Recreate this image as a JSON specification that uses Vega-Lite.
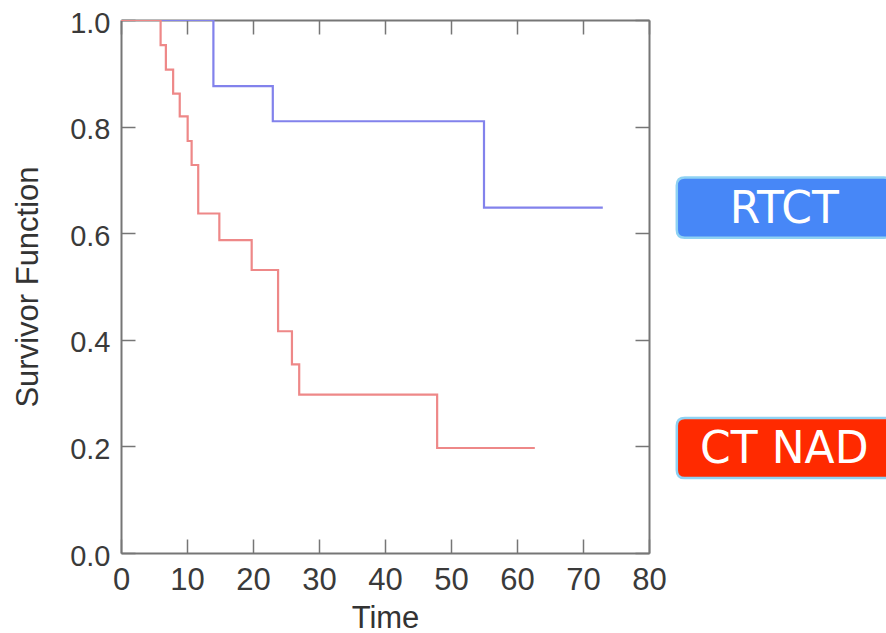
{
  "$schema": "https://vega.github.io/schema/vega-lite/v6.json",
  "width": 528,
  "height": 533,
  "autosize": {"type": "none"},
  "padding": {"left": 121, "top": 20, "right": 237, "bottom": 80},
  "background": "white",
  "config": {
    "view": {"stroke": null},
    "axis": {
      "grid": false,
      "domainColor": "#767676",
      "domainWidth": 2,
      "tickColor": "#767676",
      "tickWidth": 1.5,
      "labelColor": "#3a3a3a",
      "titleColor": "#333333",
      "labelFont": "Liberation Sans",
      "titleFont": "Liberation Sans",
      "titleFontWeight": "normal"
    }
  },
  "datasets": {
    "km": [
      {"group": "RTCT", "time": 0, "surv": 1.0},
      {"group": "RTCT", "time": 14, "surv": 0.876},
      {"group": "RTCT", "time": 23, "surv": 0.81},
      {"group": "RTCT", "time": 55, "surv": 0.648},
      {"group": "RTCT", "time": 73, "surv": 0.648},
      {"group": "CT NAD", "time": 0, "surv": 1.0},
      {"group": "CT NAD", "time": 6, "surv": 0.953},
      {"group": "CT NAD", "time": 6.8, "surv": 0.907},
      {"group": "CT NAD", "time": 7.9, "surv": 0.862},
      {"group": "CT NAD", "time": 8.9, "surv": 0.819},
      {"group": "CT NAD", "time": 10.1, "surv": 0.773},
      {"group": "CT NAD", "time": 10.7, "surv": 0.728},
      {"group": "CT NAD", "time": 11.7, "surv": 0.637},
      {"group": "CT NAD", "time": 14.9, "surv": 0.587},
      {"group": "CT NAD", "time": 19.8, "surv": 0.531},
      {"group": "CT NAD", "time": 23.8, "surv": 0.416},
      {"group": "CT NAD", "time": 25.9, "surv": 0.354},
      {"group": "CT NAD", "time": 27, "surv": 0.297},
      {"group": "CT NAD", "time": 47.9, "surv": 0.197},
      {"group": "CT NAD", "time": 62.7, "surv": 0.197}
    ]
  },
  "data": {"name": "km"},
  "layer": [
    {
      "mark": {"type": "line", "interpolate": "step-after", "strokeWidth": 2.2, "clip": true},
      "encoding": {
        "x": {
          "field": "time", "type": "quantitative",
          "scale": {"domain": [0, 80], "nice": false, "zero": false},
          "axis": {
            "orient": "bottom", "title": "Time",
            "values": [0, 10, 20, 30, 40, 50, 60, 70, 80],
            "tickSize": -14, "labelPadding": 26, "labelFontSize": 31,
            "titleFontSize": 31, "titlePadding": 8, "labelFlush": false
          }
        },
        "y": {
          "field": "surv", "type": "quantitative",
          "scale": {"domain": [0, 1], "nice": false},
          "axis": {
            "orient": "left", "title": "Survivor Function",
            "values": [0, 0.2, 0.4, 0.6, 0.8, 1.0], "format": ".1f",
            "tickSize": -14, "labelPadding": 25, "labelFontSize": 29, "labelOffset": 3,
            "titleFontSize": 31, "titlePadding": 25, "labelFlush": false
          }
        },
        "color": {
          "field": "group", "type": "nominal",
          "scale": {"domain": ["RTCT", "CT NAD"], "range": ["#8282ec", "#ee8888"]},
          "legend": null
        },
        "detail": {"field": "group"}
      }
    },
    {
      "mark": {"type": "line", "opacity": 0},
      "encoding": {
        "x": {
          "field": "time", "type": "quantitative",
          "axis": {"orient": "top", "title": null, "labels": false,
                   "values": [0, 10, 20, 30, 40, 50, 60, 70, 80], "tickSize": -14}
        },
        "y": {
          "field": "surv", "type": "quantitative",
          "axis": {"orient": "right", "title": null, "labels": false,
                   "values": [0, 0.2, 0.4, 0.6, 0.8, 1.0], "tickSize": -14}
        },
        "detail": {"field": "group"}
      }
    },
    {
      "transform": [
        {"joinaggregate": [{"op": "max", "field": "time", "as": "tmax"}], "groupby": ["group"]},
        {"filter": "datum.time == datum.tmax && datum.group == 'RTCT'"}
      ],
      "mark": {
        "type": "point", "filled": true, "opacity": 1, "size": 46225,
        "shape": "M -0.926 -0.28 L 0.926 -0.28 Q 1 -0.28 1 -0.206 L 1 0.206 Q 1 0.28 0.926 0.28 L -0.926 0.28 Q -1 0.28 -1 0.206 L -1 -0.206 Q -1 -0.28 -0.926 -0.28 Z",
        "fill": "#4787f7", "stroke": "#8fd2f3", "strokeWidth": 2.5
      },
      "encoding": {
        "x": {"datum": 100.5, "type": "quantitative", "axis": null},
        "y": {"field": "surv", "type": "quantitative", "axis": null}
      }
    },
    {
      "transform": [
        {"joinaggregate": [{"op": "max", "field": "time", "as": "tmax"}], "groupby": ["group"]},
        {"filter": "datum.time == datum.tmax && datum.group == 'CT NAD'"}
      ],
      "mark": {
        "type": "point", "filled": true, "opacity": 1, "size": 46225,
        "shape": "M -0.926 -0.28 L 0.926 -0.28 Q 1 -0.28 1 -0.206 L 1 0.206 Q 1 0.28 0.926 0.28 L -0.926 0.28 Q -1 0.28 -1 0.206 L -1 -0.206 Q -1 -0.28 -0.926 -0.28 Z",
        "fill": "#ff2a00", "stroke": "#8fd2f3", "strokeWidth": 2.5
      },
      "encoding": {
        "x": {"datum": 100.5, "type": "quantitative", "axis": null},
        "y": {"field": "surv", "type": "quantitative", "axis": null}
      }
    },
    {
      "transform": [
        {"joinaggregate": [{"op": "max", "field": "time", "as": "tmax"}], "groupby": ["group"]},
        {"filter": "datum.time == datum.tmax"}
      ],
      "mark": {
        "type": "text", "font": "DejaVu Sans", "fontSize": 44, "color": "white",
        "align": "center", "baseline": "middle", "dy": 2
      },
      "encoding": {
        "x": {"datum": 100.5, "type": "quantitative", "axis": null},
        "y": {"field": "surv", "type": "quantitative", "axis": null},
        "text": {"field": "group"}
      }
    }
  ],
  "resolve": {"axis": {"x": "independent", "y": "independent"}}
}
